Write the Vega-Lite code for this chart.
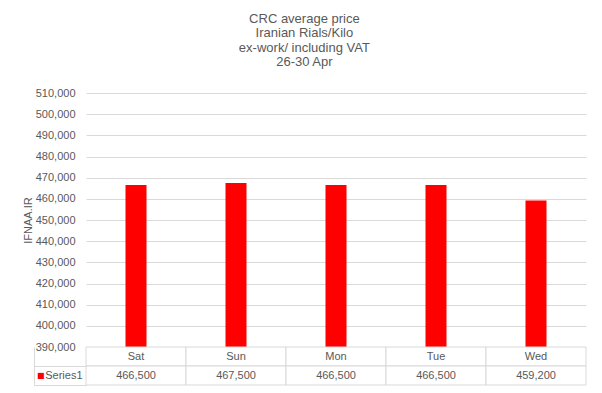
{
  "$schema": "https://vega.github.io/schema/vega-lite/v6.json",
  "padding": {"left": 22, "top": 12, "right": 14, "bottom": 7},
  "background": "#ffffff",
  "bounds": "flush",
  "title": {
    "text": ["CRC average price", "Iranian Rials/Kilo", "ex-work/ including VAT", "26-30 Apr"],
    "font": "Liberation Sans",
    "fontSize": 13,
    "fontWeight": "normal",
    "color": "#595959",
    "lineHeight": 14.5,
    "anchor": "middle",
    "offset": 18
  },
  "data": {
    "values": [
      {"day": "Sat", "value": 466500},
      {"day": "Sun", "value": 467500},
      {"day": "Mon", "value": 466500},
      {"day": "Tue", "value": 466500},
      {"day": "Wed", "value": 459200}
    ]
  },
  "spacing": 0,
  "config": {"font": "Liberation Sans", "view": {"stroke": null}},
  "vconcat": [
    {
      "width": 500,
      "height": 254,
      "mark": {"type": "bar", "color": "#ff0000", "width": {"band": 0.21}},
      "encoding": {
        "x": {
          "field": "day", "type": "nominal", "sort": null,
          "scale": {"paddingInner": 0, "paddingOuter": 0},
          "axis": null
        },
        "y": {
          "field": "value", "type": "quantitative",
          "scale": {"domain": [390000, 510000], "zero": false, "nice": false},
          "axis": {
            "values": [390000, 400000, 410000, 420000, 430000, 440000, 450000, 460000, 470000, 480000, 490000, 500000, 510000],
            "format": ",.0f",
            "title": "IFNAA.IR",
            "titleFontSize": 11,
            "titleFontWeight": "normal",
            "titleColor": "#595959",
            "titlePadding": 2,
            "labelFontSize": 11,
            "labelColor": "#595959",
            "labelPadding": 11,
            "ticks": false,
            "domain": false,
            "grid": true,
            "gridColor": "#d9d9d9"
          }
        },
        "y2": {"datum": 390000}
      }
    },
    {
      "width": 500,
      "height": 38,
      "resolve": {"axis": {"y": "independent"}},
      "layer": [
        {
          "mark": {"type": "rect", "fill": "#ffffff", "stroke": "#d9d9d9", "strokeWidth": 1},
          "encoding": {
            "x": {"field": "day", "type": "nominal", "sort": null, "scale": {"paddingInner": 0, "paddingOuter": 0}, "axis": null},
            "y": {
              "datum": "h", "type": "nominal",
              "scale": {"domain": ["h", "v"], "paddingInner": 0, "paddingOuter": 0},
              "axis": {
                "orient": "left",
                "title": null,
                "domain": false,
                "grid": false,
                "ticks": true,
                "tickSize": 52,
                "tickColor": "#d9d9d9",
                "tickWidth": 1,
                "bandPosition": 1,
                "labelExpr": "datum.value == 'v' ? 'Series1' : ''",
                "labelPadding": -48,
                "labelBaseline": "middle",
                "labelFontSize": 11,
                "labelColor": "#595959"
              }
            }
          }
        },
        {
          "mark": {"type": "rect", "fill": "#ffffff", "stroke": "#d9d9d9", "strokeWidth": 1},
          "encoding": {
            "x": {"field": "day", "type": "nominal", "sort": null, "axis": null},
            "y": {"datum": "v", "type": "nominal", "axis": null}
          }
        },
        {
          "mark": {"type": "text", "fontSize": 11, "color": "#595959", "align": "center", "baseline": "middle"},
          "encoding": {
            "x": {"field": "day", "type": "nominal", "sort": null, "axis": null},
            "y": {"datum": "h", "type": "nominal", "axis": null},
            "text": {"field": "day"}
          }
        },
        {
          "mark": {"type": "text", "fontSize": 11, "color": "#595959", "align": "center", "baseline": "middle"},
          "encoding": {
            "x": {"field": "day", "type": "nominal", "sort": null, "axis": null},
            "y": {
              "datum": "v", "type": "nominal",
              "axis": {
                "orient": "left",
                "title": null,
                "offset": 52,
                "domain": true,
                "domainColor": "#d9d9d9",
                "grid": false,
                "ticks": false,
                "labelExpr": "datum.value == 'v' ? '■' : ''",
                "labelFont": "DejaVu Sans",
                "labelFontSize": 8,
                "labelBaseline": "middle",
                "labelColor": "#ff0000",
                "labelPadding": -10
              }
            },
            "text": {"field": "value", "format": ",.0f"}
          }
        }
      ]
    }
  ]
}
